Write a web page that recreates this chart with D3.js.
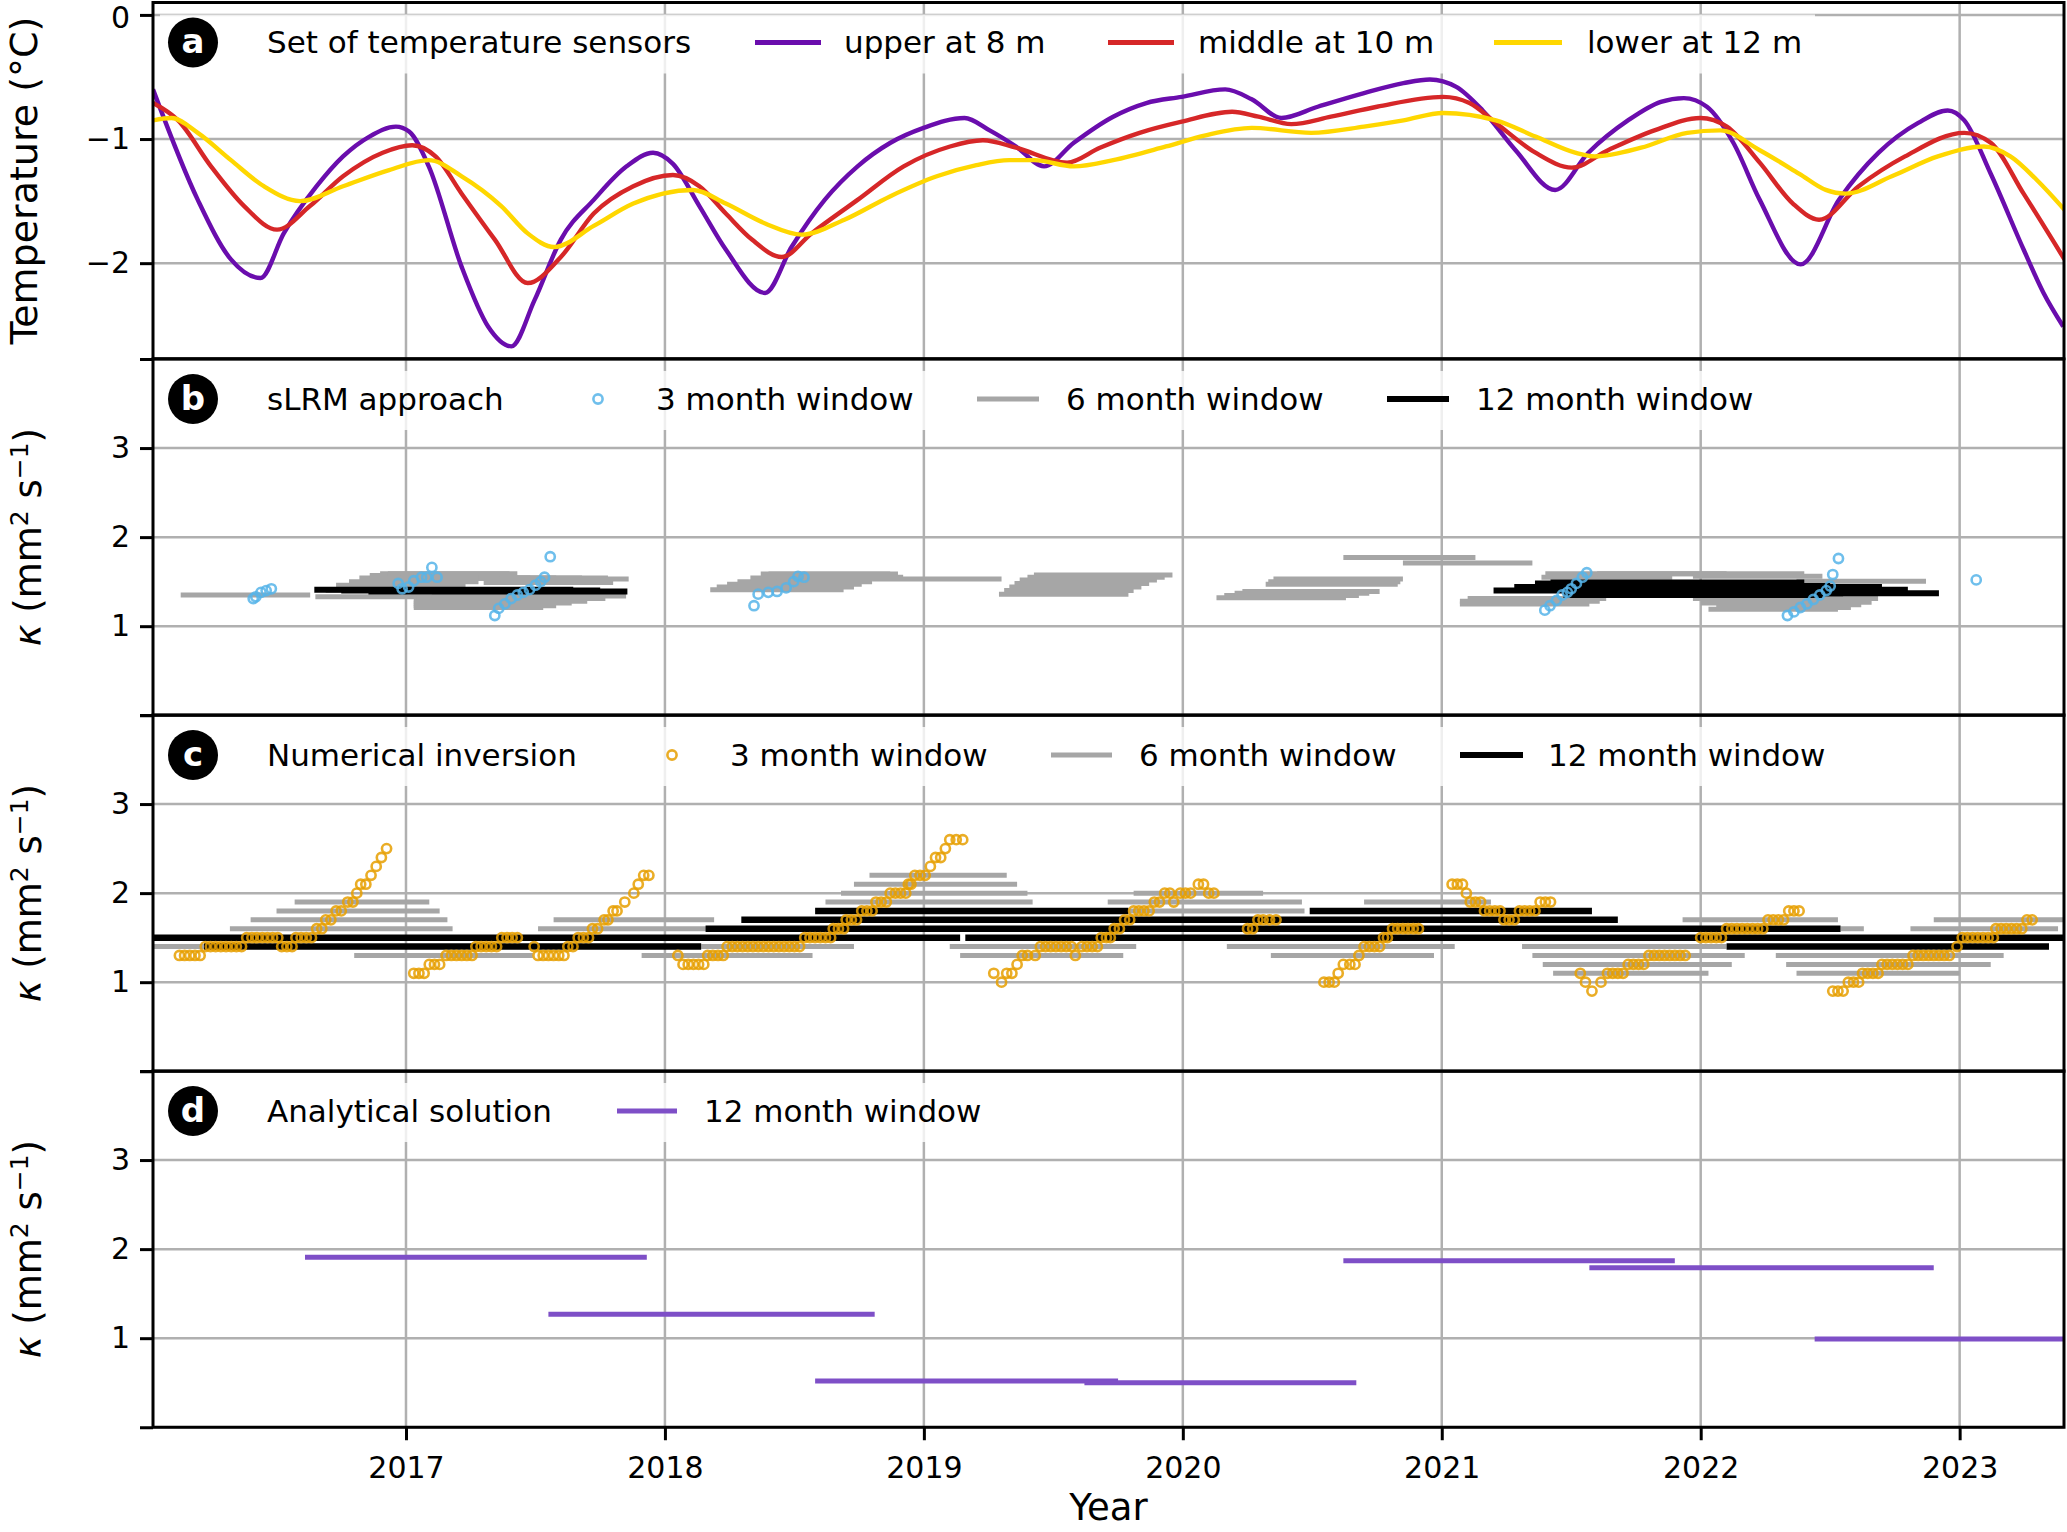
<!DOCTYPE html>
<html>
<head>
<meta charset="utf-8">
<title>Ground temperature and thermal diffusivity</title>
<script src="https://cdn.jsdelivr.net/npm/d3@7"></script>
<style>
  body { margin: 0; background: #fff; overflow: hidden; }
  svg text { font-family: "DejaVu Sans", sans-serif; fill: #000; }
</style>
</head>
<body>
<svg id="chart" width="2067" height="1532"></svg>
<script>
// ---- data (decimal years) ----
var years = [2017, 2018, 2019, 2020, 2021, 2022, 2023];
var tempTicks = [0, -1, -2];
var kappaTicks = [0, 1, 2, 3, 4];

// panel a: temperature sensors [year, degC]
var upperT = [[2016.023,-0.60],[2016.196,-1.49],[2016.324,-1.97],[2016.438,-2.12],[2016.528,-1.76],[2016.655,-1.38],[2016.757,-1.14],[2016.859,-0.98],[2016.961,-0.90],[2017.012,-0.94],[2017.088,-1.22],[2017.215,-2.03],[2017.317,-2.51],[2017.407,-2.67],[2017.496,-2.30],[2017.598,-1.81],[2017.725,-1.49],[2017.852,-1.22],[2017.954,-1.11],[2018.031,-1.20],[2018.133,-1.54],[2018.235,-1.89],[2018.387,-2.24],[2018.489,-1.87],[2018.617,-1.49],[2018.744,-1.22],[2018.871,-1.03],[2018.999,-0.91],[2019.157,-0.83],[2019.254,-0.93],[2019.356,-1.06],[2019.464,-1.22],[2019.579,-1.03],[2019.731,-0.82],[2019.859,-0.71],[2019.996,-0.66],[2020.164,-0.60],[2020.266,-0.68],[2020.381,-0.83],[2020.521,-0.74],[2020.70,-0.63],[2020.852,-0.55],[2020.954,-0.52],[2021.056,-0.58],[2021.158,-0.77],[2021.285,-1.09],[2021.438,-1.41],[2021.566,-1.11],[2021.719,-0.85],[2021.846,-0.70],[2021.935,-0.67],[2022.024,-0.74],[2022.126,-1.03],[2022.228,-1.49],[2022.386,-2.01],[2022.534,-1.49],[2022.687,-1.11],[2022.84,-0.87],[2022.954,-0.77],[2023.018,-0.85],[2023.12,-1.28],[2023.247,-1.89],[2023.324,-2.24],[2023.40,-2.51]];
var middleT = [[2016.023,-0.71],[2016.12,-0.85],[2016.247,-1.22],[2016.375,-1.54],[2016.502,-1.73],[2016.629,-1.54],[2016.757,-1.30],[2016.91,-1.11],[2017.024,-1.05],[2017.114,-1.14],[2017.215,-1.44],[2017.343,-1.81],[2017.47,-2.16],[2017.598,-1.95],[2017.725,-1.60],[2017.878,-1.38],[2018.031,-1.29],[2018.133,-1.38],[2018.235,-1.60],[2018.336,-1.81],[2018.451,-1.95],[2018.566,-1.76],[2018.744,-1.49],[2018.922,-1.22],[2019.101,-1.06],[2019.228,-1.01],[2019.356,-1.07],[2019.553,-1.19],[2019.68,-1.07],[2019.833,-0.95],[2019.996,-0.86],[2020.19,-0.78],[2020.292,-0.82],[2020.419,-0.88],[2020.572,-0.82],[2020.75,-0.74],[2021.005,-0.66],[2021.107,-0.71],[2021.209,-0.87],[2021.362,-1.11],[2021.502,-1.23],[2021.642,-1.09],[2021.821,-0.93],[2021.999,-0.83],[2022.101,-0.90],[2022.228,-1.19],[2022.356,-1.52],[2022.457,-1.65],[2022.61,-1.38],[2022.789,-1.14],[2023.018,-0.95],[2023.12,-1.03],[2023.247,-1.44],[2023.405,-1.97]];
var lowerT = [[2016.023,-0.85],[2016.094,-0.83],[2016.196,-0.95],[2016.324,-1.17],[2016.451,-1.38],[2016.591,-1.50],[2016.757,-1.38],[2016.935,-1.25],[2017.088,-1.17],[2017.215,-1.30],[2017.368,-1.54],[2017.47,-1.76],[2017.572,-1.87],[2017.725,-1.70],[2017.878,-1.52],[2018.107,-1.41],[2018.235,-1.52],[2018.387,-1.68],[2018.528,-1.77],[2018.693,-1.65],[2018.871,-1.46],[2019.05,-1.30],[2019.203,-1.21],[2019.33,-1.17],[2019.426,-1.17],[2019.579,-1.22],[2019.731,-1.17],[2019.935,-1.06],[2020.088,-0.97],[2020.266,-0.91],[2020.496,-0.95],[2020.70,-0.90],[2020.852,-0.85],[2021.005,-0.79],[2021.209,-0.85],[2021.362,-0.98],[2021.515,-1.11],[2021.591,-1.14],[2021.77,-1.07],[2021.948,-0.95],[2022.075,-0.93],[2022.228,-1.09],[2022.381,-1.28],[2022.483,-1.41],[2022.559,-1.44],[2022.738,-1.30],[2022.916,-1.14],[2023.094,-1.06],[2023.196,-1.14],[2023.298,-1.33],[2023.405,-1.57]];

// panel b: sLRM approach
var slrm3 = [[2016.41,1.31],[2016.42,1.33],[2016.44,1.38],[2016.46,1.40],[2016.48,1.42],
  [2016.97,1.48],[2016.985,1.42],[2017.01,1.44],[2017.03,1.51],[2017.06,1.55],[2017.08,1.55],[2017.10,1.66],[2017.12,1.55],
  [2017.343,1.12],[2017.358,1.20],[2017.382,1.25],[2017.406,1.31],[2017.43,1.35],[2017.453,1.38],[2017.477,1.41],[2017.50,1.46],[2017.52,1.50],[2017.535,1.55],[2017.557,1.78],
  [2018.344,1.23],[2018.36,1.36],[2018.399,1.38],[2018.433,1.39],[2018.468,1.43],[2018.497,1.50],[2018.514,1.56],[2018.537,1.55],
  [2021.398,1.18],[2021.418,1.23],[2021.443,1.29],[2021.465,1.35],[2021.485,1.38],[2021.50,1.42],[2021.52,1.48],[2021.543,1.55],[2021.56,1.60],
  [2022.335,1.12],[2022.36,1.16],[2022.385,1.21],[2022.41,1.25],[2022.435,1.30],[2022.46,1.35],[2022.485,1.40],[2022.50,1.45],[2022.51,1.58],[2022.532,1.76],
  [2023.064,1.52]];
// [start, end, kappa]
var slrm6 = [[2016.13,2016.63,1.35],
  [2016.65,2017.12,1.33],[2016.69,2017.19,1.40],[2016.73,2017.23,1.46],[2016.78,2017.28,1.50],[2016.82,2017.32,1.54],[2016.86,2017.36,1.57],[2016.90,2017.40,1.59],[2016.93,2017.43,1.59],[2016.98,2017.48,1.54],[2017.08,2017.58,1.54],[2017.18,2017.68,1.54],[2017.28,2017.78,1.54],[2017.36,2017.86,1.53],[2017.30,2017.80,1.49],
  [2017.03,2017.53,1.21],[2017.03,2017.58,1.23],[2017.03,2017.64,1.26],[2017.03,2017.70,1.28],[2017.04,2017.77,1.31],[2017.10,2017.85,1.34],
  [2018.175,2018.69,1.41],[2018.20,2018.73,1.44],[2018.24,2018.76,1.47],[2018.28,2018.80,1.50],[2018.33,2018.84,1.54],[2018.37,2018.87,1.585],[2018.40,2018.90,1.585],[2018.43,2018.92,1.55],[2018.80,2019.30,1.53],
  [2019.29,2019.79,1.36],[2019.31,2019.81,1.40],[2019.33,2019.84,1.44],[2019.35,2019.87,1.48],[2019.37,2019.90,1.52],[2019.40,2019.93,1.55],[2019.425,2019.96,1.575],
  [2020.13,2020.63,1.32],[2020.16,2020.68,1.345],[2020.20,2020.72,1.37],[2020.23,2020.76,1.39],
  [2020.32,2020.83,1.47],[2020.33,2020.84,1.50],[2020.35,2020.85,1.53],
  [2020.62,2021.13,1.77],[2020.85,2021.35,1.71],
  [2021.07,2021.57,1.25],[2021.07,2021.61,1.28],[2021.10,2021.635,1.31],
  [2021.385,2021.89,1.55],[2021.40,2021.90,1.59],[2021.60,2022.10,1.59],[2021.90,2022.40,1.59],[2021.97,2022.47,1.56],[2022.37,2022.87,1.505],
  [2021.97,2022.47,1.31],[2022.00,2022.52,1.26],[2022.03,2022.53,1.19],[2022.06,2022.58,1.21],[2022.10,2022.62,1.24],[2022.14,2022.66,1.27],[2022.18,2022.685,1.31]];
var slrm12 = [[2016.646,2017.646,1.41],[2016.75,2017.75,1.40],[2016.855,2017.855,1.39],
  [2021.20,2022.20,1.40],[2021.28,2022.28,1.44],[2021.36,2022.36,1.48],[2021.42,2022.40,1.49],[2021.47,2022.47,1.35],[2021.50,2022.50,1.45],[2021.55,2022.55,1.37],[2021.62,2022.62,1.42],[2021.70,2022.70,1.44],[2021.80,2022.80,1.41],[2021.92,2022.92,1.37]];

// panel c: numerical inversion, 3 month results grouped by kappa
var num3Runs = [
  [1.3,[2016.125,2016.145,2016.165,2016.185,2016.205]],
  [1.4,[2016.225,2016.245,2016.265,2016.285,2016.305,2016.325,2016.345,2016.365]],
  [1.5,[2016.385,2016.405,2016.425,2016.445,2016.465,2016.485,2016.505]],
  [1.4,[2016.52,2016.54,2016.56]],
  [1.5,[2016.575,2016.595,2016.615,2016.635]],
  [1.6,[2016.655,2016.675]],[1.7,[2016.69,2016.71]],[1.8,[2016.73,2016.75]],[1.9,[2016.775,2016.795]],
  [2.0,[2016.81]],[2.1,[2016.825,2016.845]],[2.2,[2016.865]],[2.3,[2016.885]],[2.4,[2016.905]],[2.5,[2016.925]],
  [1.1,[2017.03,2017.05,2017.07]],
  [1.2,[2017.09,2017.11,2017.13]],
  [1.3,[2017.155,2017.175,2017.195,2017.215,2017.235,2017.255]],
  [1.4,[2017.27,2017.29,2017.31,2017.33,2017.35]],
  [1.5,[2017.37,2017.39,2017.41,2017.43]],
  [1.4,[2017.495]],
  [1.3,[2017.51,2017.53,2017.55,2017.57,2017.59,2017.61]],
  [1.4,[2017.625,2017.645]],
  [1.5,[2017.665,2017.685,2017.705]],
  [1.6,[2017.72,2017.74]],[1.7,[2017.765,2017.78]],[1.8,[2017.80,2017.815]],[1.9,[2017.845]],
  [2.0,[2017.88]],[2.1,[2017.897]],[2.2,[2017.918,2017.938]],
  [1.3,[2018.05]],
  [1.2,[2018.07,2018.09,2018.11,2018.13,2018.15]],
  [1.3,[2018.165,2018.185,2018.205,2018.225]],
  [1.4,[2018.24,2018.26,2018.28,2018.30,2018.32,2018.34,2018.36,2018.38,2018.40,2018.42,2018.44,2018.46,2018.48,2018.50,2018.52]],
  [1.5,[2018.54,2018.56,2018.58,2018.60,2018.62,2018.64]],
  [1.6,[2018.65,2018.67,2018.69]],[1.7,[2018.70,2018.72,2018.74]],[1.8,[2018.76,2018.78,2018.80]],
  [1.9,[2018.815,2018.835,2018.855]],[2.0,[2018.87,2018.89,2018.91,2018.93]],[2.1,[2018.94,2018.95]],
  [2.2,[2018.965,2018.985,2019.005]],[2.3,[2019.025]],[2.4,[2019.045,2019.065]],[2.5,[2019.083]],[2.6,[2019.10,2019.125,2019.15]],
  [1.1,[2019.27]],[1.0,[2019.30]],[1.1,[2019.32,2019.34]],[1.2,[2019.36]],
  [1.3,[2019.38,2019.40,2019.43]],
  [1.4,[2019.45,2019.47,2019.49,2019.51,2019.53,2019.55,2019.57]],
  [1.3,[2019.585]],
  [1.4,[2019.61,2019.63,2019.65,2019.67]],
  [1.5,[2019.685,2019.705,2019.72]],[1.6,[2019.735,2019.755]],[1.7,[2019.775,2019.795]],
  [1.8,[2019.81,2019.83,2019.85,2019.87]],[1.9,[2019.89,2019.91,2019.965]],
  [2.0,[2019.93,2019.95,2019.99,2020.01,2020.03]],[2.1,[2020.06,2020.08]],[2.0,[2020.10,2020.12]],
  [1.6,[2020.25,2020.27]],[1.7,[2020.29,2020.31,2020.335,2020.36]],
  [1.0,[2020.545,2020.565,2020.585]],[1.1,[2020.60]],[1.2,[2020.62,2020.645,2020.665]],[1.3,[2020.68]],
  [1.4,[2020.70,2020.72,2020.74,2020.76]],[1.5,[2020.775,2020.79]],
  [1.6,[2020.81,2020.83,2020.85,2020.87,2020.89,2020.91]],
  [2.1,[2021.04,2021.06,2021.08]],[2.0,[2021.095]],[1.9,[2021.11,2021.13,2021.15]],
  [1.8,[2021.165,2021.185,2021.205,2021.225]],[1.7,[2021.24,2021.26,2021.28]],
  [1.8,[2021.30,2021.32,2021.34,2021.36]],[1.9,[2021.38,2021.40,2021.42]],
  [1.1,[2021.535]],[1.0,[2021.555]],[0.9,[2021.58]],[1.0,[2021.615]],
  [1.1,[2021.64,2021.66,2021.68,2021.70]],[1.2,[2021.72,2021.74,2021.76,2021.78]],
  [1.3,[2021.80,2021.82,2021.84,2021.86,2021.88,2021.90,2021.92,2021.94]],
  [1.5,[2022.00,2022.02,2022.04,2022.06,2022.08]],
  [1.6,[2022.10,2022.12,2022.14,2022.16,2022.18,2022.20,2022.22,2022.24]],
  [1.7,[2022.26,2022.28,2022.30,2022.32]],[1.8,[2022.34,2022.36,2022.38]],
  [0.9,[2022.51,2022.53,2022.55]],[1.0,[2022.57,2022.59,2022.61]],
  [1.1,[2022.625,2022.645,2022.665,2022.685]],
  [1.2,[2022.70,2022.72,2022.74,2022.76,2022.78,2022.80]],
  [1.3,[2022.82,2022.84,2022.86,2022.88,2022.90,2022.92,2022.94,2022.96]],
  [1.4,[2022.99]],
  [1.5,[2023.01,2023.03,2023.05,2023.07,2023.09,2023.11,2023.13]],
  [1.6,[2023.14,2023.16,2023.18,2023.20,2023.22,2023.24]],
  [1.7,[2023.26,2023.28]]];
var num6 = [[2016.57,2017.09,1.9],[2016.50,2017.13,1.8],[2016.40,2017.16,1.7],[2016.32,2017.18,1.6],
  [2016.02,2016.22,1.4],[2016.80,2017.49,1.3],
  [2017.57,2018.19,1.7],[2017.51,2018.16,1.6],[2017.91,2018.57,1.3],[2018.14,2018.73,1.4],
  [2018.79,2019.32,2.2],[2018.73,2019.36,2.1],[2018.68,2019.40,2.0],[2018.62,2019.42,1.9],
  [2019.10,2019.82,1.4],[2019.14,2019.77,1.3],
  [2019.81,2020.31,2.0],[2019.71,2020.46,1.9],[2019.79,2020.47,1.8],
  [2020.17,2021.05,1.4],[2020.34,2020.97,1.3],[2020.70,2021.19,1.9],
  [2021.31,2022.10,1.4],[2021.35,2022.17,1.3],[2021.39,2022.12,1.2],[2021.43,2022.03,1.1],
  [2021.93,2022.53,1.7],[2022.54,2022.63,1.6],
  [2022.29,2023.17,1.3],[2022.33,2023.12,1.2],[2022.37,2023.00,1.1],
  [2022.81,2023.38,1.6],[2022.90,2023.42,1.7]];
var num12 = [[2016.02,2019.14,1.5],[2019.16,2023.42,1.5],[2016.22,2018.14,1.4],[2022.10,2023.345,1.4],
  [2018.157,2022.54,1.6],[2018.295,2021.68,1.7],[2018.58,2019.79,1.8],[2020.49,2021.58,1.8]];

// panel d: analytical solution, 12 month window
var ana12 = [[2016.61,2017.93,1.91],[2017.55,2018.81,1.27],[2018.58,2019.75,0.52],[2019.62,2020.67,0.50],
  [2020.62,2021.90,1.87],[2021.57,2022.90,1.79],[2022.44,2023.42,0.99]];

// ---- layout ----
var left = 153, right = 2064;
var panelTops = [2.5, 359, 715, 1071], panelH = 356.25;
var colors = {upper: "#6a0dad", middle: "#d62728", lower: "#ffd700",
  blue: "#56b4e9", orange: "#e69f00", grey: "#a6a6a6", black: "#000", purple: "#7e4fc7"};

var svg = d3.select("#chart");
svg.append("rect").attr("width", 2067).attr("height", 1532).attr("fill", "#fff");

var x = d3.scaleLinear().domain([2016.023, 2023.403]).range([left, right]);

function makePanel(i, domain, ticks) {
  var top = panelTops[i];
  var y = d3.scaleLinear().domain(domain).range([top + panelH, top]);
  var g = svg.append("g");
  svg.append("clipPath").attr("id", "clip" + i)
    .append("rect").attr("x", left).attr("y", top).attr("width", right - left).attr("height", panelH);

  // grid
  g.append("g").selectAll("line").data(years).join("line")
    .attr("x1", x).attr("x2", x).attr("y1", top).attr("y2", top + panelH)
    .attr("stroke", "#b0b0b0").attr("stroke-width", 2.5);
  g.append("g").selectAll("line").data(ticks).join("line")
    .attr("x1", left).attr("x2", right).attr("y1", y).attr("y2", y)
    .attr("stroke", "#b0b0b0").attr("stroke-width", 2.5);

  var data = g.append("g").attr("clip-path", "url(#clip" + i + ")");
  return {g: g, data: data, y: y, top: top};
}

function segments(p, rows, color, width) {
  p.data.append("g").selectAll("line").data(rows).join("line")
    .attr("x1", function(d) { return x(d[0]); })
    .attr("x2", function(d) { return x(d[1]); })
    .attr("y1", function(d) { return p.y(d[2]); })
    .attr("y2", function(d) { return p.y(d[2]); })
    .attr("stroke", color).attr("stroke-width", width);
}

function rings(p, pts, color) {
  p.data.append("g").selectAll("circle").data(pts).join("circle")
    .attr("cx", function(d) { return x(d[0]); })
    .attr("cy", function(d) { return p.y(d[1]); })
    .attr("r", 4.6).attr("fill", "none")
    .attr("stroke", color).attr("stroke-width", 2.6).attr("stroke-opacity", 0.85);
}

function legend(p, letter, title, items, boxRight) {
  var cy = p.top + 40;
  var lg = svg.append("g");
  lg.append("rect").attr("x", 160).attr("y", p.top + 12).attr("width", boxRight - 160).attr("height", 59)
    .attr("fill", "#fff").attr("fill-opacity", 0.8);
  lg.append("circle").attr("cx", 193).attr("cy", cy).attr("r", 25).attr("fill", "#000");
  lg.append("text").attr("x", 193).attr("y", cy).attr("dy", "0.32em")
    .attr("text-anchor", "middle").attr("font-weight", "bold").attr("font-size", 34)
    .style("fill", "#fff").text(letter);
  lg.append("text").attr("x", 267).attr("y", cy).attr("dy", "0.35em").attr("font-size", 31).text(title);
  items.forEach(function(it) {
    if (it.kind === "ring") {
      lg.append("circle").attr("cx", it.x0).attr("cy", cy).attr("r", 4.6).attr("fill", "none")
        .attr("stroke", it.color).attr("stroke-width", 2.6).attr("stroke-opacity", 0.85);
    } else {
      lg.append("line").attr("x1", it.x0).attr("x2", it.x1).attr("y1", cy).attr("y2", cy)
        .attr("stroke", it.color).attr("stroke-width", it.w);
    }
    lg.append("text").attr("x", it.tx).attr("y", cy).attr("dy", "0.35em").attr("font-size", 31).text(it.label);
  });
}

function yAxis(p, ticks, fmt) {
  var ax = svg.append("g").attr("transform", "translate(" + left + ",0)")
    .call(d3.axisLeft(p.y).tickValues(ticks).tickSize(13).tickPadding(10).tickFormat(fmt));
  ax.select(".domain").remove();
  ax.selectAll(".tick line").attr("stroke", "#000").attr("stroke-width", 3);
  ax.selectAll(".tick text").attr("font-size", 30).attr("font-family", "DejaVu Sans");
  return ax;
}

function spine(p) {
  svg.append("rect").attr("x", left).attr("y", p.top).attr("width", right - left).attr("height", panelH)
    .attr("fill", "none").attr("stroke", "#000").attr("stroke-width", 3);
}

function kappaLabel(p) {
  var t = svg.append("text")
    .attr("transform", "translate(41," + (p.top + panelH / 2) + ") rotate(-90)")
    .attr("text-anchor", "middle").attr("font-size", 37);
  t.append("tspan").attr("font-style", "italic").text("κ");
  t.append("tspan").text(" (mm");
  t.append("tspan").attr("font-size", 25).attr("dy", -13).text("2");
  t.append("tspan").attr("dy", 13).text(" s");
  t.append("tspan").attr("font-size", 25).attr("dy", -13).text("−1");
  t.append("tspan").attr("dy", 13).text(")");
}

var kappaFmt = function(d) { return (d >= 1 && d <= 3) ? String(d) : ""; };

// ---- panel a ----
var pa = makePanel(0, [-2.77, 0.1], tempTicks);
var tline = d3.line().x(function(d) { return x(d[0]); }).y(function(d) { return pa.y(d[1]); })
  .curve(d3.curveMonotoneX);
[[upperT, colors.upper], [middleT, colors.middle], [lowerT, colors.lower]].forEach(function(s) {
  pa.data.append("path").datum(s[0]).attr("d", tline)
    .attr("fill", "none").attr("stroke", s[1]).attr("stroke-width", 4.4);
});
legend(pa, "a", "Set of temperature sensors", [
  {kind: "line", x0: 755, x1: 821, color: colors.upper, w: 5, tx: 844, label: "upper at 8 m"},
  {kind: "line", x0: 1108, x1: 1174, color: colors.middle, w: 5, tx: 1198, label: "middle at 10 m"},
  {kind: "line", x0: 1494, x1: 1562, color: colors.lower, w: 5, tx: 1587, label: "lower at 12 m"}
], 1815);

// ---- panel b ----
var pb = makePanel(1, [0, 4], kappaTicks);
segments(pb, slrm6, colors.grey, 5);
segments(pb, slrm12, colors.black, 6);
rings(pb, slrm3, colors.blue);
legend(pb, "b", "sLRM approach", [
  {kind: "ring", x0: 598, color: colors.blue, tx: 656, label: "3 month window"},
  {kind: "line", x0: 977, x1: 1039, color: colors.grey, w: 5, tx: 1066, label: "6 month window"},
  {kind: "line", x0: 1387, x1: 1449, color: colors.black, w: 6, tx: 1476, label: "12 month window"}
], 1765);

// ---- panel c ----
var pc = makePanel(2, [0, 4], kappaTicks);
var num3 = num3Runs.flatMap(function(r) { return r[1].map(function(t) { return [t, r[0]]; }); });
segments(pc, num6, colors.grey, 5);
segments(pc, num12, colors.black, 6.5);
rings(pc, num3, colors.orange);
legend(pc, "c", "Numerical inversion", [
  {kind: "ring", x0: 672, color: colors.orange, tx: 730, label: "3 month window"},
  {kind: "line", x0: 1051, x1: 1112, color: colors.grey, w: 5, tx: 1139, label: "6 month window"},
  {kind: "line", x0: 1460, x1: 1523, color: colors.black, w: 6, tx: 1548, label: "12 month window"}
], 1840);

// ---- panel d ----
var pd = makePanel(3, [0, 4], kappaTicks);
segments(pd, ana12, colors.purple, 5);
legend(pd, "d", "Analytical solution", [
  {kind: "line", x0: 617, x1: 677, color: colors.purple, w: 5, tx: 704, label: "12 month window"}
], 995);

// ---- axes, spines, labels ----
[pa, pb, pc, pd].forEach(spine);
var axA = yAxis(pa, tempTicks, function(d) { return d === 0 ? "0" : "−" + Math.abs(d); });
axA.selectAll(".tick text").filter(function(d) { return d === 0; }).attr("dy", "0.42em");
[pb, pc, pd].forEach(function(p) { yAxis(p, kappaTicks, kappaFmt); });

var xAx = svg.append("g").attr("transform", "translate(0," + (pd.top + panelH) + ")")
  .call(d3.axisBottom(x).tickValues(years).tickSize(13).tickPadding(16).tickFormat(d3.format("d")));
xAx.select(".domain").remove();
xAx.selectAll(".tick line").attr("stroke", "#000").attr("stroke-width", 3);
xAx.selectAll(".tick text").attr("font-size", 30).attr("font-family", "DejaVu Sans");

svg.append("text")
  .attr("transform", "translate(37," + (pa.top + panelH / 2) + ") rotate(-90)")
  .attr("text-anchor", "middle").attr("font-size", 38).text("Temperature (°C)");
[pb, pc, pd].forEach(kappaLabel);

svg.append("text").attr("x", (left + right) / 2).attr("y", 1520)
  .attr("text-anchor", "middle").attr("font-size", 37).text("Year");
</script>
</body>
</html>
